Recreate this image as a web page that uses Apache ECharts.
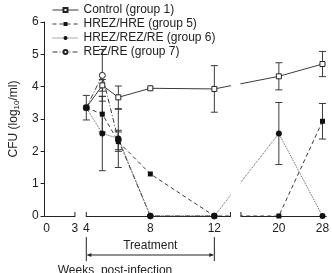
<!DOCTYPE html>
<html>
<head>
<meta charset="UTF-8">
<title>cfu</title>
<script src="https://cdn.jsdelivr.net/npm/echarts@6/dist/echarts.min.js"></script>
<style>
  *{margin:0;padding:0}
  html,body{width:332px;height:273px;background:#fff}
  #main{width:332px;height:273px}
</style>
</head>
<body>
<div id="main"></div>
<script>
// weeks post-infection for the sampled points
var weeks = [4, 5, 6, 8, 12, 20, 28];
var tickWeeks = [0, 3, 4, 8, 12, 20, 28];

// CFU (log10/ml) per group
var control = [3.35, 4.04, 3.67, 3.95, 3.93, 4.32, 4.70];
var controlErr = [0.38, 0.18, 0.35, 0, 0.72, 0.42, 0.39];
var hre = [3.35, 3.15, 2.30, 1.30, 0, 0, 2.93];
var hreErr = [0, 0.55, 0.3, 0, 0, 0, 0.55];
var hrez = [3.35, 2.55, 2.40, 0, 0, 2.55, 0];
var hrezErr = [0, 1.15, 0.9, 0, 0, 0.96, 0];
var rez = [3.35, 4.35, 2.35, 0, 0];
var rezErr = [0, 0.8, 0.3, 0, 0];

// broken x scale: weeks -> axis position
var weekAnchors = [0, 3, 4, 12, 20, 28];
var posAnchors = [2, 32, 44, 179, 247, 293];
var breakWeeks = [[3, 4], [14, 15.3]];

function toPos(w) {
    for (var i = 0; i < weekAnchors.length - 1; i++) {
        var a = weekAnchors[i], b = weekAnchors[i + 1];
        if (w <= b || i == weekAnchors.length - 2) {
            return posAnchors[i] + (w - a) / (b - a) * (posAnchors[i + 1] - posAnchors[i]);
        }
    }
}
function pts(vals) {
    return vals.map(function (v, i) { return [toPos(weeks[i]), v]; });
}
function errPts(vals, errs) {
    var out = [];
    vals.forEach(function (v, i) {
        if (errs[i] > 0) out.push([toPos(weeks[i]), v, errs[i]]);
    });
    return out;
}

var font = 'Liberation Sans, Arial, sans-serif';
var ink = '#222';
var grey = '#3a3a3a';

function errBar(params, api) {
    var x = api.value(0), y = api.value(1), e = api.value(2);
    var t = api.coord([x, y + e]), b = api.coord([x, y - e]);
    var st = {stroke: grey, lineWidth: 1};
    return {
        type: 'group',
        children: [
            {type: 'line', shape: {x1: t[0], y1: t[1], x2: b[0], y2: b[1]}, style: st},
            {type: 'line', shape: {x1: t[0] - 3.5, y1: t[1], x2: t[0] + 3.5, y2: t[1]}, style: st},
            {type: 'line', shape: {x1: b[0] - 3.5, y1: b[1], x2: b[0] + 3.5, y2: b[1]}, style: st}
        ]
    };
}

var names = ['Control (group 1)', 'HREZ/HRE (group 5)', 'HREZ/REZ/RE (group 6)', 'REZ/RE (group 7)'];

var myChart = echarts.init(document.getElementById('main'));
var option = {
    animation: false,
    textStyle: {fontFamily: font},
    legend: {
        data: names,
        orient: 'vertical',
        left: 47,
        top: -1,
        itemWidth: 26,
        itemHeight: 5,
        itemGap: 2,
        lineStyle: {width: 1},
        textStyle: {fontSize: 12, color: ink, fontFamily: font}
    },
    grid: {left: 33, right: 2, top: 22, bottom: 57},
    xAxis: {
        type: 'value',
        min: 0,
        max: 297,
        axisLine: {lineStyle: {color: ink, width: 1}},
        axisTick: {show: false},
        splitLine: {show: false},
        axisLabel: {
            customValues: tickWeeks.map(toPos),
            color: ink,
            fontSize: 12,
            margin: 7,
            fontFamily: font,
            formatter: function (v) {
                for (var i = 0; i < tickWeeks.length; i++) {
                    if (Math.abs(toPos(tickWeeks[i]) - v) < 0.01) return String(tickWeeks[i]);
                }
                return '';
            }
        }
    },
    yAxis: {
        type: 'value',
        min: 0,
        max: 6,
        interval: 1,
        name: '{a|CFU (log}{s|10}{a|/ml)}',
        nameLocation: 'middle',
        nameGap: 20,
        nameTextStyle: {
            rich: {
                a: {fontSize: 12, color: ink, fontFamily: font},
                s: {fontSize: 8, color: ink, fontFamily: font, verticalAlign: 'bottom', padding: [6, 0, 0, 0]}
            }
        },
        axisLine: {show: true, lineStyle: {color: ink, width: 1}},
        axisTick: {show: true, length: 4, lineStyle: {color: ink}},
        splitLine: {show: false},
        axisLabel: {color: ink, fontSize: 12, margin: 6, fontFamily: font}
    },
    series: [
        {type: 'custom', name: 'e1', renderItem: errBar, data: errPts(control, controlErr), z: 1},
        {type: 'custom', name: 'e5', renderItem: errBar, data: errPts(hre, hreErr), z: 1},
        {type: 'custom', name: 'e6', renderItem: errBar, data: errPts(hrez, hrezErr), z: 1},
        {type: 'custom', name: 'e7', renderItem: errBar, data: errPts(rez, rezErr), z: 1},
        {
            name: names[0], type: 'line', data: pts(control),
            symbol: 'rect', symbolSize: 5,
            lineStyle: {color: grey, width: 1, type: 'solid'},
            itemStyle: {color: '#fff', borderColor: ink, borderWidth: 1}
        },
        {
            name: names[3], type: 'line', data: pts(rez),
            symbol: 'circle', symbolSize: 6,
            lineStyle: {color: grey, width: 1, type: [5, 2, 1, 2]},
            itemStyle: {color: '#fff', borderColor: ink, borderWidth: 1}
        },
        {
            name: names[1], type: 'line', data: pts(hre),
            symbol: 'rect', symbolSize: 5,
            lineStyle: {color: grey, width: 1, type: [4, 3]},
            itemStyle: {color: '#111', borderColor: '#111', borderWidth: 0}
        },
        {
            name: names[2], type: 'line', data: pts(hrez),
            symbol: 'circle', symbolSize: 6,
            lineStyle: {color: '#555', width: 1, type: [1, 1]},
            itemStyle: {color: '#111', borderColor: '#111', borderWidth: 0}
        }
    ]
};
myChart.setOption(option);

// axis breaks, break ticks, treatment arrow and x title
function px(w, v) { return myChart.convertToPixel({gridIndex: 0}, [toPos(w), v]); }
var base = px(0, 0)[1];
var topY = px(0, 6)[1];
var g = [];
breakWeeks.forEach(function (br, i) {
    var x1 = px(br[0], 0)[0], x2 = px(br[1], 0)[0];
    g.push({
        type: 'rect', z: 100,
        shape: {x: x1 + 0.5, y: i == 0 ? base - 2 : topY, width: x2 - x1 - 1, height: i == 0 ? 4 : base - topY + 2},
        style: {fill: '#fff'}
    });
    [x1, x2].forEach(function (x) {
        g.push({type: 'line', z: 101, shape: {x1: x, y1: base - 4, x2: x, y2: base}, style: {stroke: ink, lineWidth: 1}});
    });
});
var xa = px(4, 0)[0], xb = px(12, 0)[0];
var ay = 255;
g.push({type: 'line', z: 101, shape: {x1: xa, y1: 237, x2: xa, y2: 261}, style: {stroke: ink, lineWidth: 1}});
g.push({type: 'line', z: 101, shape: {x1: xb, y1: 237, x2: xb, y2: 261}, style: {stroke: ink, lineWidth: 1}});
g.push({type: 'line', z: 101, shape: {x1: xa + 1, y1: ay, x2: xb - 1, y2: ay}, style: {stroke: ink, lineWidth: 1}});
g.push({type: 'polygon', z: 101, shape: {points: [[xa + 1, ay], [xa + 5, ay - 2], [xa + 5, ay + 2]]}, style: {fill: ink}});
g.push({type: 'polygon', z: 101, shape: {points: [[xb - 1, ay], [xb - 5, ay - 2], [xb - 5, ay + 2]]}, style: {fill: ink}});
g.push({
    type: 'text', z: 101, x: (xa + xb) / 2, y: 246,
    style: {text: 'Treatment', fill: ink, font: '12px ' + font, align: 'center', verticalAlign: 'middle'}
});
g.push({
    type: 'text', z: 101, x: 115, y: 271,
    style: {text: 'Weeks  post-infection', fill: ink, font: '12px ' + font, align: 'center', verticalAlign: 'middle'}
});
myChart.setOption({graphic: g});
</script>
</body>
</html>
